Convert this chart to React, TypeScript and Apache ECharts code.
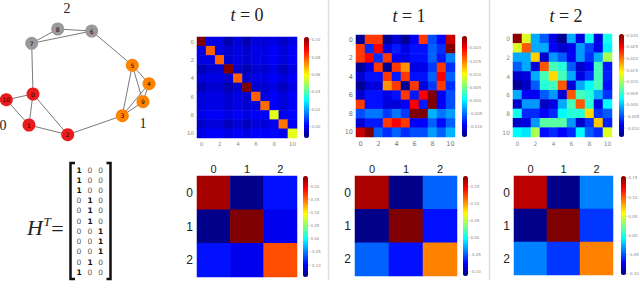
import React, { useEffect, useRef } from "react";
import * as echarts from "echarts";

const jet = ["#00007f", "#0000ff", "#007fff", "#00ffff", "#7fff7f", "#ffff00", "#ff7f00", "#ff0000", "#7f0000"];

const nodeIds = ["0", "1", "2", "3", "4", "5", "6", "7", "8", "9", "10"];
const nodeX = [33, 29, 67.7, 122.3, 149, 132.3, 91.7, 31.7, 57.7, 143, 6.3];
const nodeY = [94, 125, 134.7, 115.7, 83.7, 65.3, 31, 43.3, 29, 101.7, 99.7];
const nodeGroup = [0, 0, 0, 1, 1, 1, 2, 2, 2, 1, 0];
const groupColors = ["#e81c1c", "#ff8200", "#9a9a9a"];
const edges = [[0, 7], [0, 10], [0, 1], [0, 2], [1, 10], [1, 2], [2, 3], [3, 5], [3, 4], [3, 9], [5, 4], [5, 9], [4, 9], [5, 6], [6, 8], [6, 7], [7, 8]];

const hRows = [[1, 0, 0], [1, 0, 0], [1, 0, 0], [0, 1, 0], [0, 1, 0], [0, 1, 0], [0, 0, 1], [0, 0, 1], [0, 0, 1], [0, 1, 0], [1, 0, 0]];

const cats11 = ["0", "1", "2", "3", "4", "5", "6", "7", "8", "9", "10"];
const cats3 = ["0", "1", "2"];

const a0 = [
  [0.103, -0.0014, -0.0014, -0.0072, -0.0026, -0.0072, -0.0026, -0.0026, -0.0014, -0.0049, -0.0014],
  [-0.0014, 0.0775, -0.0014, -0.0037, -0.0014, -0.0037, -0.0014, -0.0014, 0.0009, -0.0026, 0.0009],
  [-0.0014, -0.0014, 0.0775, -0.0037, -0.0014, -0.0037, -0.0014, -0.0014, 0.0009, -0.0026, 0.0009],
  [-0.0072, -0.0037, -0.0037, 0.103, -0.0037, -0.0072, -0.0037, -0.0037, -0.0014, -0.006, -0.0014],
  [-0.0026, -0.0014, -0.0014, -0.0037, 0.0775, -0.0037, -0.0014, -0.0014, 0.0009, -0.0026, 0.0009],
  [-0.0072, -0.0037, -0.0037, -0.0072, -0.0037, 0.103, -0.0037, -0.0037, -0.0014, -0.006, -0.0014],
  [-0.0026, -0.0014, -0.0014, -0.0037, -0.0014, -0.0037, 0.0775, -0.0014, 0.0009, -0.0026, 0.0009],
  [-0.0026, -0.0014, -0.0014, -0.0037, -0.0014, -0.0037, -0.0014, 0.0763, 0.0009, -0.0026, 0.0009],
  [-0.0014, 0.0009, 0.0009, -0.0014, 0.0009, -0.0014, 0.0009, 0.0009, 0.0566, -0.0002, 0.0021],
  [-0.0049, -0.0026, -0.0026, -0.006, -0.0026, -0.006, -0.0026, -0.0026, -0.0002, 0.0752, -0.0002],
  [-0.0014, 0.0009, 0.0009, -0.0014, 0.0009, -0.0014, 0.0009, 0.0009, 0.0021, -0.0002, 0.0566],
];
const a1 = [
  [-0.013, 0.0176, 0.0176, -0.013, -0.0107, -0.013, -0.0092, 0.0176, -0.0061, -0.0088, 0.0218],
  [0.0176, -0.0073, 0.0199, -0.01, -0.0081, -0.01, -0.0084, -0.0084, -0.0054, -0.0073, 0.0245],
  [0.0176, 0.0199, -0.0073, 0.0176, -0.0092, -0.01, -0.0084, -0.0084, -0.0054, -0.0081, -0.0042],
  [-0.013, -0.01, 0.0176, -0.013, 0.0176, 0.0142, -0.01, -0.01, -0.0069, 0.0176, -0.0073],
  [-0.0107, -0.0084, -0.0084, 0.0176, -0.0081, 0.0176, -0.0084, -0.0084, -0.0054, 0.0199, -0.0054],
  [-0.013, -0.0104, -0.0104, 0.0142, 0.0176, -0.013, 0.0176, -0.0104, -0.0069, 0.0176, -0.0073],
  [-0.0107, -0.0084, -0.0084, -0.01, -0.0084, 0.0176, -0.0081, 0.0199, 0.0245, -0.0092, -0.0061],
  [0.0176, -0.0084, -0.0084, -0.0104, -0.0104, -0.0092, 0.0199, -0.0081, 0.0245, -0.0092, -0.0061],
  [-0.0061, -0.0046, -0.0046, -0.0069, -0.0046, -0.0069, 0.0245, 0.0245, -0.0023, -0.0046, -0.0031],
  [-0.0107, -0.0081, -0.0081, 0.0176, 0.0199, 0.0176, -0.0092, -0.0092, -0.0054, -0.0088, -0.0054],
  [0.0218, 0.0245, -0.0054, -0.0073, -0.0054, -0.0073, -0.0061, -0.0061, -0.0031, -0.0054, -0.0023],
];
const a2 = [
  [0.03, 0.0124, -0.0008, -0.0043, -0.0096, -0.0131, -0.0008, -0.0096, 0.0036, -0.0096, 0.0036],
  [0.0124, 0.0212, -0.0008, -0.0008, -0.0087, -0.0105, -0.0092, -0.0017, -0.0052, -0.0092, 0.0023],
  [-0.0008, -0.0008, 0.0159, -0.0105, -0.0017, -0.0043, -0.0087, -0.0017, -0.0061, -0.0008, 0.0102],
  [-0.0043, -0.0008, -0.01, 0.0212, 0.0058, 0.0045, -0.0043, -0.0105, -0.0083, 0.0058, -0.0074],
  [-0.0105, -0.0096, -0.0008, 0.0058, 0.0155, 0.0058, -0.0008, -0.0096, -0.0061, 0.0058, -0.007],
  [-0.0127, -0.0109, -0.0043, 0.0045, 0.0058, 0.0212, -0.01, -0.0008, 0.0027, 0.0058, -0.0078],
  [-0.0008, -0.0087, -0.0087, -0.0043, -0.0017, -0.01, 0.0212, 0.0058, 0.0045, -0.0008, -0.0061],
  [-0.0105, -0.0017, -0.0017, -0.0109, -0.0096, -0.0008, 0.0058, 0.0212, 0.0045, -0.0096, 0.0027],
  [0.0036, -0.0065, -0.0065, -0.0083, -0.0065, 0.0027, 0.0045, 0.0045, 0.0155, -0.0061, -0.0043],
  [-0.0105, -0.0096, -0.0017, 0.0067, 0.0067, 0.0067, -0.0017, -0.0105, -0.0061, 0.0164, -0.007],
  [0.0027, 0.0018, 0.0102, -0.0078, -0.0065, -0.0083, -0.0065, 0.0027, -0.0043, -0.0065, 0.0124],
];
const c0 = [[0.223, -0.141, -0.091], [-0.141, 0.238, -0.103], [-0.091, -0.103, 0.161]];
const c1 = [[0.17, -0.109, -0.047], [-0.109, 0.182, -0.071], [-0.047, -0.071, 0.108]];
const c2 = [[0.14, -0.1, -0.038], [-0.1, 0.155, -0.057], [-0.038, -0.057, 0.09]];

const ticksA0 = [0.1, 0.08, 0.06, 0.04, 0.02, 0.0];
const ticksA1 = [0.02, 0.015, 0.01, 0.005, 0.0, -0.005, -0.01];
const ticksA2 = [0.03, 0.025, 0.02, 0.015, 0.01, 0.005, 0.0, -0.005, -0.01];
const ticksC0 = [0.2, 0.15, 0.1, 0.05, 0.0, -0.05, -0.1];
const ticksC1 = [0.15, 0.1, 0.05, 0.0, -0.05, -0.1];
const ticksC2 = [0.15, 0.1, 0.05, 0.0, -0.05, -0.1];

type Panel = {
  m: number[][]; ticks: number[]; dec: number; min: number; max: number;
  x: number; y: number; w: number; h: number; bx: number; bw: number; by: number; bh: number;
  fs: number; col: string;
};
const panels: Panel[] = [
  { m: a0, ticks: ticksA0, dec: 2, min: -0.013, max: 0.103, x: 197, y: 37, w: 100, h: 101, bx: 304, bw: 5, by: 37, bh: 101, fs: 5.5, col: "#8a8a8a" },
  { m: a1, ticks: ticksA1, dec: 3, min: -0.0138, max: 0.0245, x: 356, y: 35, w: 99, h: 102, bx: 462, bw: 5, by: 36, bh: 101, fs: 6.5, col: "#777777" },
  { m: a2, ticks: ticksA2, dec: 3, min: -0.0138, max: 0.0305, x: 513, y: 34, w: 99, h: 103, bx: 619, bw: 5, by: 34, bh: 103, fs: 6, col: "#8a8a8a" },
  { m: c0, ticks: ticksC0, dec: 2, min: -0.145, max: 0.238, x: 197, y: 176, w: 100, h: 101, bx: 303, bw: 5, by: 176, bh: 101, fs: 11, col: "#222222" },
  { m: c1, ticks: ticksC1, dec: 2, min: -0.112, max: 0.182, x: 355, y: 176, w: 102, h: 100, bx: 463, bw: 5, by: 176, bh: 100, fs: 11, col: "#222222" },
  { m: c2, ticks: ticksC2, dec: 2, min: -0.103, max: 0.155, x: 514, y: 176, w: 99, h: 99, bx: 621, bw: 5, by: 176, bh: 99, fs: 11, col: "#222222" },
];

const serif = "Liberation Serif";
const sans = "Liberation Sans";
const titles = [
  { label: "0", x: 247, y: 15 },
  { label: "1", x: 409, y: 16 },
  { label: "2", x: 566, y: 16 },
];
const groupLabels = [
  { label: "2", x: 67, y: 8 },
  { label: "0", x: 3, y: 125 },
  { label: "1", x: 143, y: 123 },
];
const matrixColX = [79, 90, 100.7];
const matrixRowY = [170, 180, 190.3, 200.3, 210.7, 221, 231.3, 241.7, 251.7, 262, 272];
const separators = [328.5, 489.5];

function buildOption() {
  const grids: any[] = [{ left: 0, top: 0, width: 170, height: 160 }];
  const xAxes: any[] = [{ type: "value", gridIndex: 0, min: 0, max: 170, show: false }];
  const yAxes: any[] = [{ type: "value", gridIndex: 0, min: 0, max: 160, inverse: true, show: false }];
  const series: any[] = [];
  const visualMaps: any[] = [];
  const graphics: any[] = [];

  series.push({
    type: "graph",
    coordinateSystem: "cartesian2d",
    xAxisIndex: 0,
    yAxisIndex: 0,
    layout: "none",
    symbolSize: 13,
    silent: true,
    z: 3,
    labelLayout: { hideOverlap: false },
    label: { show: true, position: "inside", fontSize: 6, color: "#200000", fontFamily: "DejaVu Sans", formatter: "{b}" },
    lineStyle: { color: "#7a7a7a", width: 1, opacity: 1 },
    data: nodeIds.map((id, i) => ({
      name: id,
      value: [nodeX[i], nodeY[i]],
      itemStyle: { color: groupColors[nodeGroup[i]] },
    })),
    links: edges.map(([s, t]) => ({ source: nodeIds[s], target: nodeIds[t] })),
  });

  panels.forEach((p, i) => {
    const idx = i + 1;
    const big = p.m.length === 3;
    const cats = big ? cats3 : cats11;
    grids.push({ left: p.x, top: p.y, width: p.w, height: p.h });
    const axisLabel = { fontSize: p.fs, color: p.col, fontFamily: big ? sans : "DejaVu Sans", margin: big ? 2 : 3, interval: big ? 0 : 1 };
    xAxes.push({
      type: "category", gridIndex: idx, data: cats, position: big ? "top" : "bottom",
      axisLine: { show: false }, axisTick: { show: false }, splitLine: { show: false },
      axisLabel,
    });
    yAxes.push({
      type: "category", gridIndex: idx, data: cats, inverse: true,
      axisLine: { show: false }, axisTick: { show: false }, splitLine: { show: false },
      axisLabel: big ? { ...axisLabel, fontSize: 12, margin: 4 } : axisLabel,
    });
    const sIdx = series.length;
    series.push({
      type: "heatmap",
      xAxisIndex: idx,
      yAxisIndex: idx,
      silent: true,
      progressive: 0,
      itemStyle: { borderWidth: 0 },
      data: p.m.flatMap((row, r) => row.map((v, c) => [c, r, v])),
    });
    visualMaps.push({
      type: "continuous",
      seriesIndex: sIdx,
      min: p.min,
      max: p.max,
      calculable: false,
      hoverLink: false,
      realtime: false,
      text: ["", ""],
      padding: 0,
      left: p.bx,
      top: p.by,
      itemWidth: p.bw,
      itemHeight: p.bh,
      inRange: { color: jet },
    });
    p.ticks.forEach((t) => {
      const y = p.by + ((p.max - t) / (p.max - p.min)) * p.bh;
      graphics.push({
        type: "line", silent: true,
        shape: { x1: p.bx + p.bw, y1: y, x2: p.bx + p.bw + 1.5, y2: y },
        style: { stroke: "#aaaaaa", lineWidth: 0.6 },
      });
      graphics.push({
        type: "text", silent: true, x: p.bx + p.bw + 2.5, y,
        style: { text: t.toFixed(p.dec), fontSize: 4, fill: "#8a8a8a", fontFamily: "DejaVu Sans", verticalAlign: "middle", align: "left" },
      });
    });
  });

  titles.forEach((t) => {
    graphics.push({
      type: "text", silent: true, x: t.x, y: t.y,
      style: {
        text: "{i|t} {n|= " + t.label + "}",
        align: "center", verticalAlign: "middle",
        rich: {
          i: { fontFamily: serif, fontStyle: "italic", fontSize: 18, fill: "#222222" },
          n: { fontFamily: serif, fontSize: 18, fill: "#222222" },
        },
        fontFamily: serif, fontSize: 18,
      },
    });
  });
  groupLabels.forEach((t) => {
    graphics.push({
      type: "text", silent: true, x: t.x, y: t.y,
      style: { text: t.label, fontFamily: serif, fontSize: 14, fill: "#222222", align: "center", verticalAlign: "middle" },
    });
  });

  graphics.push({ type: "text", silent: true, x: 35, y: 227, style: { text: "H", fontFamily: serif, fontStyle: "italic", fontSize: 22, fill: "#222222", align: "center", verticalAlign: "middle" } });
  graphics.push({ type: "text", silent: true, x: 47, y: 221, style: { text: "T", fontFamily: serif, fontStyle: "italic", fontSize: 13, fill: "#222222", align: "center", verticalAlign: "middle" } });
  graphics.push({ type: "text", silent: true, x: 57.5, y: 228, style: { text: "=", fontFamily: serif, fontSize: 22, fill: "#222222", align: "center", verticalAlign: "middle" } });

  hRows.forEach((row, r) => {
    row.forEach((v, c) => {
      graphics.push({
        type: "text", silent: true, x: matrixColX[c], y: matrixRowY[r],
        style: { text: String(v), fontFamily: "DejaVu Sans", fontSize: 7.5, fontWeight: v ? "bold" : "normal", fill: v ? "#111111" : "#555555", align: "center", verticalAlign: "middle" },
      });
    });
  });
  graphics.push({
    type: "polyline", silent: true,
    shape: { points: [[75, 163], [70.5, 163], [70.5, 279], [75, 279]] },
    style: { stroke: "#111111", lineWidth: 2.5, fill: "none" },
  });
  graphics.push({
    type: "polyline", silent: true,
    shape: { points: [[106.5, 163], [110.5, 163], [110.5, 279], [106.5, 279]] },
    style: { stroke: "#111111", lineWidth: 2.5, fill: "none" },
  });

  separators.forEach((x) => {
    graphics.push({
      type: "line", silent: true,
      shape: { x1: x, y1: 0, x2: x, y2: 280 },
      style: { stroke: "#dddddd", lineWidth: 1.5 },
    });
  });

  return {
    animation: false,
    backgroundColor: "#ffffff",
    tooltip: { show: false },
    grid: grids,
    xAxis: xAxes,
    yAxis: yAxes,
    visualMap: visualMaps,
    series,
    graphic: { elements: graphics },
  };
}

export default function App() {
  const ref = useRef<HTMLDivElement>(null);
  useEffect(() => {
    document.body.style.margin = "0";
    const chart = echarts.init(ref.current!, undefined, { renderer: "svg" });
    chart.setOption(buildOption() as any);
    return () => chart.dispose();
  }, []);
  return <div ref={ref} style={{ width: 640, height: 301 }} />;
}
